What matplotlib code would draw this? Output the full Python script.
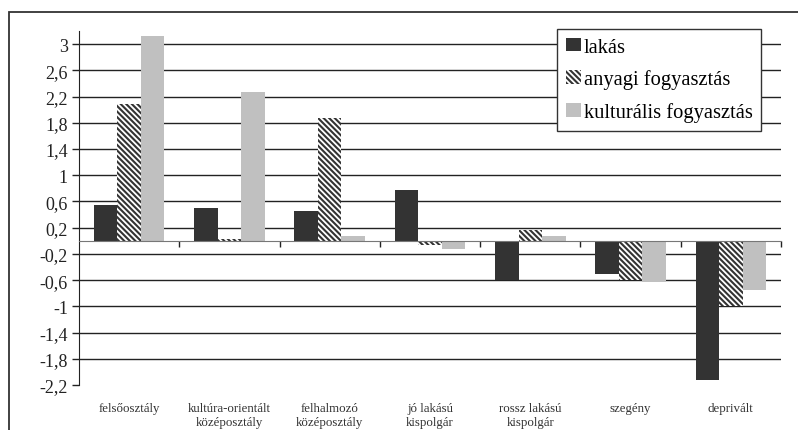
import matplotlib.pyplot as plt
import numpy as np
from matplotlib.patches import Rectangle

# social groups and the three index scores per group
categories = ["felsőosztály", "kultúra-orientált\nközéposztály", "felhalmozó\nközéposztály",
              "jó lakású\nkispolgár", "rossz lakású\nkispolgár", "szegény", "deprivált"]
lakas = [0.54, 0.50, 0.45, 0.78, -0.60, -0.51, -2.12]
anyagi = [2.09, 0.03, 1.88, -0.06, 0.16, -0.60, -1.00]
kulturalis = [3.12, 2.27, 0.08, -0.13, 0.08, -0.63, -0.75]
series_names = ["lakás", "anyagi fogyasztás", "kulturális fogyasztás"]
yticks = [-2.2, -1.8, -1.4, -1.0, -0.6, -0.2, 0.2, 0.6, 1.0, 1.4, 1.8, 2.2, 2.6, 3.0]

plt.rcParams['font.family'] = ['Liberation Serif', 'DejaVu Serif']
plt.rcParams['hatch.linewidth'] = 1.5

fig = plt.figure(figsize=(7.98, 4.31), dpi=100)
ax = fig.add_axes([79 / 798, 1 - 386 / 431, 702 / 798, 354 / 431])

x = np.arange(len(categories))
w = 0.235
ax.bar(x - w, lakas, w, color='#333333', label=series_names[0], zorder=3)
ax.bar(x, anyagi, w, facecolor='white', edgecolor='#333333', linewidth=0,
       hatch='\\' * 6, label=series_names[1], zorder=3)
ax.bar(x + w, kulturalis, w, color='#c0c0c0', label=series_names[2], zorder=3)

ax.set_xlim(-0.5, len(categories) - 0.5)
ax.set_ylim(-2.2, 3.2)

# horizontal gridlines (none at the bottom edge)
for t in yticks[1:]:
    ax.axhline(t, color='#222222', lw=1.0, zorder=1)

ax.set_yticks(yticks)
ax.set_yticklabels([f"{t:g}".replace('.', ',') for t in yticks])
ax.tick_params(axis='y', direction='out', length=5, width=1, color='#222222',
               labelsize=13, labelcolor='#222222', pad=3)

# category axis sits at zero, ticks between the groups
for s in ['top', 'right']:
    ax.spines[s].set_visible(False)
ax.spines['bottom'].set_position(('data', 0))
ax.spines['bottom'].set_color('#777777')
ax.spines['bottom'].set_zorder(4)
ax.spines['left'].set_color('#222222')
ax.set_xticks(np.arange(len(categories)) + 0.5)
ax.set_xticklabels([])
ax.tick_params(axis='x', direction='out', length=4, width=1, color='#222222')

for i, lab in enumerate(categories):
    ax.annotate(lab, xy=(i, 0), xycoords=('data', 'axes fraction'),
                xytext=(0, -12), textcoords='offset points',
                ha='center', va='top', fontsize=9.3, color='#333333',
                linespacing=1.3)

fig.legend(loc='upper left', bbox_to_anchor=(557 / 798, 1 - 30 / 431),
           fontsize=14.8, handlelength=0.75, handleheight=0.65,
           handletextpad=0.12, labelspacing=0.62, borderpad=0.42,
           borderaxespad=0, fancybox=False, edgecolor='#333333',
           framealpha=1)

# outer frame around the chart area
fig.patches.append(Rectangle((9 / 798, -0.1), 2, 1 - 13 / 431 + 0.1,
                             transform=fig.transFigure, fill=False,
                             edgecolor='#333333', lw=1.3))

fig.savefig('out.png', dpi=100)
